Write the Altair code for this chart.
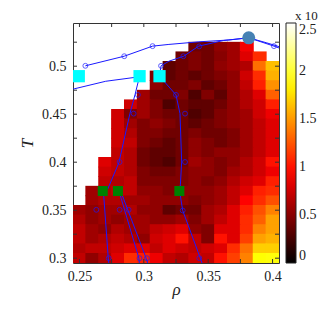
import altair as alt
import pandas as pd

# ---------------- data ----------------
rho_centers = [0.25, 0.26, 0.27, 0.28, 0.29, 0.30, 0.31, 0.32,
               0.33, 0.34, 0.35, 0.36, 0.37, 0.38, 0.39, 0.40]
T_rows = [0.52, 0.51, 0.50, 0.49, 0.48, 0.47, 0.46, 0.45, 0.44, 0.43, 0.42, 0.41,
          0.40, 0.39, 0.38, 0.37, 0.36, 0.35, 0.34, 0.33, 0.32, 0.31, 0.30]
N = None
# colour values (units of the colour bar, 0 .. 2.5), one row per T
row_052 = [N, N, N, N, N, N, N, N, N, 0.41, 0.41, 0.53, 0.59, 0.90, N, N]
row_051 = [N, N, N, N, N, N, N, N, 0.41, 0.47, 0.41, 0.50, 0.59, 0.82, 1.10, N]
row_050 = [N, N, N, N, N, N, N, 0.35, 0.41, 0.47, 0.41, 0.53, 0.59, 0.65, 1.35, 1.64]
row_049 = [N, N, N, N, N, N, 0.47, 0.35, 0.41, 0.35, 0.41, 0.47, 0.53, 0.76, 1.10, 1.59]
row_048 = [N, N, N, N, N, N, 0.53, 0.41, 0.41, 0.47, 0.35, 0.41, 0.53, 0.71, 1.05, 1.47]
row_047 = [N, N, N, N, N, 0.59, 0.41, 0.41, 0.47, 0.29, 0.47, 0.35, 0.53, 0.65, 0.82, 1.29]
row_046 = [N, N, N, N, 0.76, 0.59, 0.47, 0.29, 0.41, 0.35, 0.35, 0.41, 0.53, 0.65, 0.76, 1.05]
row_045 = [N, N, N, 0.76, 0.47, 0.59, 0.47, 0.41, 0.41, 0.29, 0.35, 0.47, 0.53, 0.59, 0.76, 0.88]
row_044 = [N, N, N, 0.76, 0.59, 0.47, 0.53, 0.47, 0.41, 0.35, 0.41, 0.47, 0.53, 0.59, 0.71, 0.82]
row_043 = [N, N, N, 0.76, 0.65, 0.47, 0.47, 0.41, 0.41, 0.47, 0.41, 0.41, 0.47, 0.59, 0.71, 0.82]
row_042 = [N, N, N, 0.76, 0.71, 0.47, 0.41, 0.35, 0.41, 0.53, 0.47, 0.41, 0.47, 0.59, 0.71, 0.82]
row_041 = [N, N, N, 0.71, 0.65, 0.41, 0.35, 0.35, 0.41, 0.53, 0.47, 0.53, 0.53, 0.59, 0.71, 0.82]
row_040 = [N, N, 0.82, 0.71, 0.65, 0.41, 0.35, 0.29, 0.41, 0.59, 0.53, 0.47, 0.53, 0.65, 0.76, 1.00]
row_039 = [N, N, 0.76, 0.71, 0.65, 0.47, 0.41, 0.41, 0.47, 0.53, 0.53, 0.47, 0.59, 0.65, 0.76, 0.88]
row_038 = [N, N, 0.71, 0.65, 0.71, 0.47, 0.47, 0.47, 0.47, 0.53, 0.47, 0.53, 0.65, 0.76, 0.82, 1.05]
row_037 = [N, 0.59, 0.65, 0.71, 0.71, 0.53, 0.53, 0.47, 0.53, 0.53, 0.53, 0.59, 0.71, 0.82, 1.05, 1.10]
row_036 = [N, 0.59, 0.65, 0.65, 0.59, 0.59, 0.53, 0.53, 0.53, 0.47, 0.53, 0.59, 0.71, 0.94, 1.10, 1.23]
row_035 = [0.59, 0.53, 0.59, 0.59, 0.65, 0.53, 0.53, 0.35, 0.41, 0.41, 0.59, 0.65, 0.82, 1.05, 1.23, 1.41]
row_034 = [0.65, 0.53, 0.59, 0.53, 0.59, 0.59, 0.53, 0.53, 0.59, 0.47, 0.59, 0.71, 0.82, 1.10, 1.29, 1.53]
row_033 = [0.71, 0.59, 0.53, 0.65, 0.59, 0.59, 0.71, 0.76, 0.82, 0.53, 0.47, 0.82, 0.82, 1.10, 1.41, 1.53]
row_032 = [0.71, 0.59, 0.65, 0.71, 0.65, 0.53, 0.76, 0.82, 1.00, 0.71, 0.47, 1.00, 0.82, 1.17, 1.53, 1.59]
row_031 = [0.65, 0.71, 0.71, 0.76, 0.82, 0.82, 0.71, 0.82, 0.76, 0.71, 0.76, 0.82, 1.10, 1.35, 1.70, 1.70]
row_030 = [0.71, 0.53, 0.65, 0.82, 1.10, 1.05, 0.88, 0.71, 0.65, 0.76, 0.71, 1.00, 1.17, 1.41, 1.88, 1.90]
value_rows = [row_052, row_051, row_050, row_049, row_048, row_047, row_046, row_045,
              row_044, row_043, row_042, row_041, row_040, row_039, row_038, row_037,
              row_036, row_035, row_034, row_033, row_032, row_031, row_030]

# blue curves (rho, T)
outer_rho = [0.2546, 0.2848, 0.3068, 0.3195, 0.3428, 0.3660, 0.3815]
outer_T = [0.5004, 0.5104, 0.5209, 0.5227, 0.5254, 0.5273, 0.5296]
inner_rho = [0.3122, 0.3134, 0.3195, 0.3310, 0.3426, 0.3620, 0.3815]
inner_T = [0.4896, 0.5004, 0.5052, 0.5104, 0.5209, 0.5268, 0.5296]
right_a_rho = [0.3815, 0.4011, 0.4060]
right_a_T = [0.5296, 0.5209, 0.5185]
right_b_rho = [0.3815, 0.3950, 0.4060]
right_b_T = [0.5296, 0.5245, 0.5200]
lowleft_rho = [0.2440, 0.2459, 0.2704, 0.2962]
lowleft_T = [0.4760, 0.4764, 0.4843, 0.4889]
desc_left_rho = [0.2967, 0.2932, 0.2892, 0.2807, 0.2720]
desc_left_T = [0.4896, 0.4705, 0.4506, 0.3998, 0.3720]
foot_left_rho = [0.2686, 0.2724, 0.2728]
foot_left_T = [0.3700, 0.3000, 0.2950]
foot_mid_a_rho = [0.2807, 0.2962, 0.2965]
foot_mid_a_T = [0.3700, 0.3000, 0.2950]
foot_mid_b_rho = [0.2820, 0.3018, 0.3030]
foot_mid_b_T = [0.3700, 0.3000, 0.2950]
desc_right_rho = [0.3122, 0.3250, 0.3281, 0.3294, 0.3284, 0.3278]
desc_right_T = [0.4896, 0.4701, 0.4506, 0.4002, 0.3765, 0.3700]
foot_right_rho = [0.3278, 0.3302, 0.3439, 0.3452]
foot_right_T = [0.3700, 0.3497, 0.3000, 0.2950]

# open circle markers
circle_rho = [0.3068, 0.3430, 0.4011, 0.2848, 0.3307, 0.2546, 0.3134, 0.2954, 0.3250,
              0.2921, 0.3320, 0.2812, 0.3320, 0.2631, 0.2812, 0.2882, 0.3302,
              0.2727, 0.2967, 0.3024, 0.3431]
circle_T = [0.5209, 0.5206, 0.5209, 0.5104, 0.5104, 0.5004, 0.5004, 0.4701, 0.4701,
            0.4506, 0.4506, 0.4002, 0.4002, 0.3504, 0.3504, 0.3504, 0.3497,
            0.3000, 0.3000, 0.3000, 0.3000]
cyan_rho = [0.2495, 0.2967, 0.3122]
cyan_T = [0.4896, 0.4896, 0.4896]
green_rho = [0.2681, 0.2799, 0.3276]
green_T = [0.3700, 0.3700, 0.3700]
crit_rho = [0.3815]
crit_T = [0.5296]

x_ticks = [0.25, 0.275, 0.3, 0.325, 0.35, 0.375, 0.4]
y_ticks = [0.3, 0.325, 0.35, 0.375, 0.4, 0.425, 0.45, 0.475, 0.5, 0.525]

# ---------------- build tables ----------------
cells = []
for T, row in zip(T_rows, value_rows):
    for r, v in zip(rho_centers, row):
        if v is not None:
            cells.append({"rho": r, "T": T, "v": v})
heat_df = pd.DataFrame(cells)

line_sets = {
    "outer": (outer_rho, outer_T), "inner": (inner_rho, inner_T),
    "ra": (right_a_rho, right_a_T), "rb": (right_b_rho, right_b_T),
    "lowleft": (lowleft_rho, lowleft_T), "dl": (desc_left_rho, desc_left_T),
    "fl": (foot_left_rho, foot_left_T), "fma": (foot_mid_a_rho, foot_mid_a_T),
    "fmb": (foot_mid_b_rho, foot_mid_b_T), "dr": (desc_right_rho, desc_right_T),
    "fr": (foot_right_rho, foot_right_T),
}
lrows = []
for name, (rs, ts) in line_sets.items():
    for i, (r, t) in enumerate(zip(rs, ts)):
        lrows.append({"s": name, "o": i, "rho": r, "T": t})
line_df = pd.DataFrame(lrows)
circ_df = pd.DataFrame({"rho": circle_rho, "T": circle_T})
cyan_df = pd.DataFrame({"rho": cyan_rho, "T": cyan_T})
green_df = pd.DataFrame({"rho": green_rho, "T": green_T})
crit_df = pd.DataFrame({"rho": crit_rho, "T": crit_T})
xt_df = pd.DataFrame({"rho": x_ticks})
yt_df = pd.DataFrame({"T": y_ticks})

W, H = 206, 240
FONT = "Liberation Serif"
xs = alt.Scale(domain=[0.245, 0.405], nice=False, zero=False)
ys = alt.Scale(domain=[0.295, 0.545], nice=False, zero=False)

x_axis = alt.Axis(values=[0.25, 0.3, 0.35, 0.4], format="~g", title="ρ",
                  ticks=False, domain=False, grid=False, labelPadding=6,
                  titleY=31, titleBaseline="alphabetic")
y_axis = alt.Axis(values=[0.3, 0.35, 0.4, 0.45, 0.5], format="~g", title="T",
                  ticks=False, domain=False, grid=False, labelPadding=7,
                  titleX=-46, titleY=120, titleAngle=270, titleAlign="center",
                  titleBaseline="middle")

color_scale = alt.Scale(domain=[0, 0.9375, 1.875, 2.5],
                        range=["#000000", "#ff0000", "#ffff00", "#ffffff"],
                        interpolate="rgb")

heat = alt.Chart(heat_df).transform_calculate(
    x0="datum.rho - 0.0054", x1="datum.rho + 0.0054",
    y0="datum.T - 0.0054", y1="datum.T + 0.0054",
).mark_rect(clip=True).encode(
    x=alt.X("x0:Q", scale=xs, axis=x_axis),
    x2="x1:Q",
    y=alt.Y("y0:Q", scale=ys, axis=y_axis),
    y2="y1:Q",
    color=alt.Color("v:Q", scale=color_scale,
                    legend=alt.Legend(values=[0, 0.5, 1, 1.5, 2, 2.5], format="~g",
                                      title=None, gradientLength=H, gradientThickness=10,
                                      offset=7, padding=0, labelFont=FONT, labelFontSize=14,
                                      labelColor="#222", gradientStrokeColor="#222",
                                      gradientStrokeWidth=1, labelOffset=3)),
)

lines = alt.Chart(line_df).mark_line(color="#1a1aff", strokeWidth=1, clip=True).encode(
    x=alt.X("rho:Q", scale=xs), y=alt.Y("T:Q", scale=ys),
    detail="s:N", order="o:Q")

circles = alt.Chart(circ_df).mark_point(shape="circle", filled=False, color="#1a1aff",
                                        size=24, strokeWidth=1, clip=True).encode(
    x=alt.X("rho:Q", scale=xs), y=alt.Y("T:Q", scale=ys))

cyan = alt.Chart(cyan_df).mark_square(color="#00ffff", size=150, opacity=1, clip=True).encode(
    x=alt.X("rho:Q", scale=xs), y=alt.Y("T:Q", scale=ys))
green = alt.Chart(green_df).mark_square(color="#008000", size=100, opacity=1, clip=True).encode(
    x=alt.X("rho:Q", scale=xs), y=alt.Y("T:Q", scale=ys))
crit = alt.Chart(crit_df).mark_circle(color="#4682b4", size=170, opacity=1).encode(
    x=alt.X("rho:Q", scale=xs), y=alt.Y("T:Q", scale=ys))

tick_color = "#333"
xt_bottom = alt.Chart(xt_df).mark_rule(color=tick_color).encode(
    x=alt.X("rho:Q", scale=xs), y=alt.value(H), y2=alt.value(H - 4))
xt_top = alt.Chart(xt_df).mark_rule(color=tick_color).encode(
    x=alt.X("rho:Q", scale=xs), y=alt.value(0), y2=alt.value(4))
yt_left = alt.Chart(yt_df).mark_rule(color=tick_color).encode(
    y=alt.Y("T:Q", scale=ys), x=alt.value(0), x2=alt.value(4))
yt_right = alt.Chart(yt_df).mark_rule(color=tick_color).encode(
    y=alt.Y("T:Q", scale=ys), x=alt.value(W), x2=alt.value(W - 4))

exp_text = alt.Chart(pd.DataFrame({"t": ["x 10"]})).mark_text(
    font=FONT, fontSize=13, align="left", baseline="alphabetic", color="#222").encode(
    text="t:N", x=alt.value(222), y=alt.value(-3))

chart = alt.layer(heat, lines, circles, cyan, green, crit,
                  xt_bottom, xt_top, yt_left, yt_right, exp_text).properties(
    width=W, height=H,
    autosize=alt.AutoSizeParams(type="none"),
    padding={"left": 65, "top": 15, "right": 40, "bottom": 55},
).configure_view(stroke="#333", strokeWidth=1).configure_axis(
    labelFont=FONT, labelFontSize=14, labelColor="#222",
    titleFont=FONT, titleFontSize=17, titleFontStyle="italic",
    titleFontWeight="normal", titleColor="#222",
).configure_legend(orient="right")

chart.save("out.html", embed_options={"renderer": "svg", "actions": False})
